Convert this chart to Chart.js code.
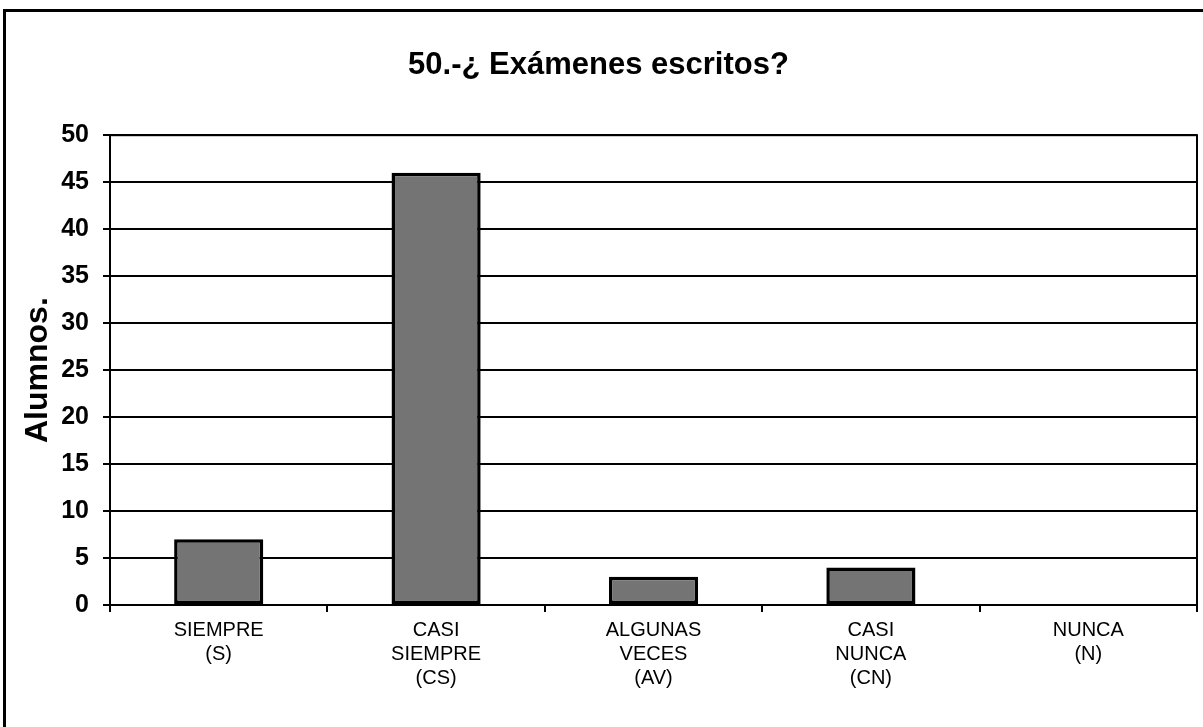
<!DOCTYPE html>
<html>
<head>
<meta charset="utf-8">
<script src="https://cdn.jsdelivr.net/npm/chart.js@4/dist/chart.umd.min.js"></script>
<style>
  html, body { margin: 0; padding: 0; background: #fff; }
  #wrap { position: relative; width: 1203px; height: 727px; overflow: hidden; }
  #frame { position: absolute; left: 3px; top: 9px; width: 1210px; height: 740px; border: 3px solid #000; box-sizing: border-box; pointer-events: none; }
  canvas { position: absolute; left: 0; top: 0; }
</style>
</head>
<body>
<div id="wrap">
  <canvas id="grafica" width="1203" height="727"></canvas>
  <div id="frame"></div>
</div>
<script>
const categorias = [
  ['SIEMPRE', '(S)'],
  ['CASI', 'SIEMPRE', '(CS)'],
  ['ALGUNAS', 'VECES', '(AV)'],
  ['CASI', 'NUNCA', '(CN)'],
  ['NUNCA', '(N)']
]
const alumnos = [7, 46, 3, 4, 0]
const titulo = '50.-¿ Exámenes escritos?'
const tituloY = 'Alumnos.'

// borde del area de trazado
const bordeArea = {
  id: 'bordeArea',
  afterDraw(chart) {
    const a = chart.chartArea
    const c = chart.ctx
    c.save()
    c.strokeStyle = '#000'
    c.lineWidth = 2
    c.strokeRect(a.left, a.top, a.right - a.left, a.bottom - a.top)
    c.restore()
  }
}

const fuente = 'Arial, "Liberation Sans", sans-serif'

const ctx = document.getElementById('grafica')
new Chart(ctx, {
  type: 'bar',
  data: {
    labels: categorias,
    datasets: [{
      label: tituloY,
      data: alumnos,
      backgroundColor: '#747474',
      borderColor: '#000',
      borderWidth: 3.5,
      borderSkipped: false,
      categoryPercentage: 1,
      barPercentage: 0.41
    }]
  },
  options: {
    responsive: false,
    animation: false,
    devicePixelRatio: 1,
    layout: { padding: { left: 0, right: 6, top: 0, bottom: 0 } },
    plugins: {
      legend: { display: false },
      tooltip: { enabled: false },
      title: {
        display: true,
        text: titulo,
        color: '#000',
        font: { family: fuente, size: 31, weight: 'bold' },
        padding: { top: 47, bottom: 51 }
      }
    },
    scales: {
      x: {
        grid: { drawOnChartArea: false, drawTicks: true, tickLength: 7, color: '#000', lineWidth: 2, offset: true },
        border: { color: '#000', width: 2 },
        ticks: {
          color: '#000',
          font: { family: fuente, size: 20, lineHeight: 1.2 },
          padding: 6,
          maxRotation: 0,
          autoSkip: false
        },
        afterFit(scale) { scale.height = 122 }
      },
      y: {
        min: 0,
        max: 50,
        grid: { color: '#000', lineWidth: 2, tickLength: 7 },
        border: { color: '#000', width: 2 },
        ticks: {
          stepSize: 5,
          color: '#000',
          font: { family: fuente, size: 25, weight: 'bold' },
          padding: 14
        },
        title: {
          display: true,
          text: tituloY,
          color: '#000',
          font: { family: fuente, size: 32, weight: 'bold' },
          padding: { top: 19, bottom: 0 }
        },
        afterFit(scale) { scale.width = 110 }
      }
    }
  },
  plugins: [bordeArea]
})
</script>
</body>
</html>
